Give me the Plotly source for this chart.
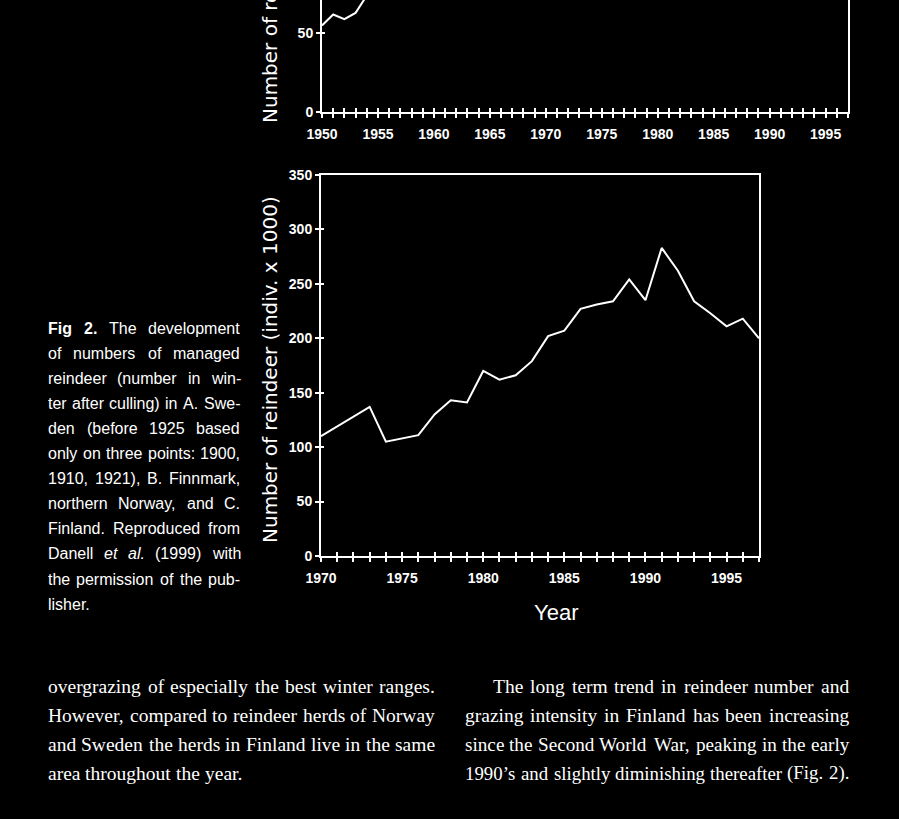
import plotly.graph_objects as go

W, H = 899, 819

# ---------------- data ----------------
years_top = [1950, 1951, 1952, 1953, 1954, 1955]
reindeer_top = [55, 62, 59, 63, 74, 88]

years_fin = list(range(1970, 1998))
reindeer_fin = [110, 119, 128, 137, 105, 108, 111, 130, 143, 141,
                170, 162, 166, 179, 202, 207, 227, 231, 234, 254,
                235, 283, 262, 234, 223, 211, 218, 200]

yticks = [0, 50, 100, 150, 200, 250, 300, 350]
xticks_top = [1950, 1955, 1960, 1965, 1970, 1975, 1980, 1985, 1990, 1995]
xticks_fin = [1970, 1975, 1980, 1985, 1990, 1995]

y_title = "Number of reindeer (indiv. x 1000)"
x_title = "Year"

caption_lines = [
    "Fig 2. The development",
    "of numbers of managed",
    "reindeer (number in win-",
    "ter after culling) in A. Swe-",
    "den (before 1925 based",
    "only on three points: 1900,",
    "1910, 1921), B. Finnmark,",
    "northern Norway, and C.",
    "Finland. Reproduced from",
    "Danell et al. (1999) with",
    "the permission of the pub-",
    "lisher.",
]
body_left = [
    "overgrazing of especially the best winter ranges.",
    "However, compared to reindeer herds of Norway",
    "and Sweden the herds in Finland live in the same",
    "area throughout the year.",
]
body_right = [
    "The long term trend in reindeer number and",
    "grazing intensity in Finland has been increasing",
    "since the Second World War, peaking in the early",
    "1990\u2019s and slightly diminishing thereafter (Fig. 2).",
]

# ---------------- helpers ----------------
def px(x):
    return x / W

def py(y):
    return 1 - y / H

HELV = {' ': 278, '(': 333, ')': 333, ',': 278, '-': 333, '.': 278, ':': 278,
        'A': 667, 'B': 667, 'C': 722, 'D': 722, 'F': 611, 'N': 722, 'R': 722,
        'S': 667, 'T': 611,
        'a': 556, 'b': 556, 'c': 500, 'd': 556, 'e': 556, 'f': 278, 'g': 556,
        'h': 556, 'i': 222, 'j': 222, 'k': 500, 'l': 222, 'm': 833, 'n': 556,
        'o': 556, 'p': 556, 'q': 556, 'r': 333, 's': 500, 't': 278, 'u': 556,
        'v': 500, 'w': 722, 'x': 500, 'y': 500, 'z': 500}
for d in '0123456789':
    HELV[d] = 556
HELV_B = dict(HELV)
HELV_B.update({'i': 278, 'g': 611, 'F': 611})

TIMES = {' ': 250, '(': 333, ')': 333, ',': 250, '-': 333, '.': 250, '\u2019': 333,
         'F': 556, 'H': 722, 'N': 722, 'S': 556, 'T': 611, 'W': 944,
         'a': 444, 'b': 500, 'c': 444, 'd': 500, 'e': 444, 'f': 333, 'g': 500,
         'h': 500, 'i': 278, 'j': 278, 'k': 500, 'l': 278, 'm': 778, 'n': 500,
         'o': 500, 'p': 500, 'q': 500, 'r': 333, 's': 389, 't': 278, 'u': 500,
         'v': 500, 'w': 722, 'x': 500, 'y': 500, 'z': 444}
for d in '0123456789':
    TIMES[d] = 500


def wwidth(word, table, size):
    return sum(table.get(c, 500) for c in word) * size / 1000.0


annotations = []


def place_line(text, left, right, yc, table, size, family, justify, styles=None):
    words = text.split(' ')
    styles = styles or {}
    tables = [HELV_B if styles.get(w) == 'b' else table for w in words]
    # shrink a line slightly if it would not fit naturally
    natural = sum(wwidth(w, tb, size) for w, tb in zip(words, tables)) + \
        (len(words) - 1) * table[' '] * size / 1000.0
    if natural > right - left:
        size = size * (right - left) / natural * 0.995
    widths = [wwidth(w, tb, size) for w, tb in zip(words, tables)]
    space = table[' '] * size / 1000.0
    if justify and len(words) > 1:
        gap = (right - left - sum(widths)) / (len(words) - 1)
    else:
        gap = space
    x = left
    for w, wd in zip(words, widths):
        st = styles.get(w)
        t = w
        if st == 'b':
            t = '<b>' + w + '</b>'
        elif st == 'i':
            t = '<i>' + w + '</i>'
        annotations.append(dict(
            text=t, x=px(x), y=py(yc), xref='paper', yref='paper',
            xanchor='left', yanchor='middle', showarrow=False,
            borderpad=0, borderwidth=0,
            font=dict(family=family, size=size, color='white')))
        x += wd + gap


# caption
cap_font = 'Liberation Sans, Arial, sans-serif'
for i, line in enumerate(caption_lines):
    st = {}
    if i == 0:
        st = {'Fig': 'b', '2.': 'b'}
    if i == 9:
        st = {'et': 'i', 'al.': 'i'}
    place_line(line, 48, 240, 328 + 25.1 * i, HELV, 16, cap_font,
               justify=(i < len(caption_lines) - 1), styles=st)

body_font = 'Liberation Serif, Times New Roman, serif'
for i, line in enumerate(body_left):
    place_line(line, 48, 435, 686 + 29 * i, TIMES, 19.5, body_font,
               justify=(i < len(body_left) - 1))
for i, line in enumerate(body_right):
    left = 493 if i == 0 else 465
    place_line(line, left, 849, 686 + 29 * i, TIMES, 19.5, body_font, justify=True)

# axis titles (rotated)
title_font = dict(family='DejaVu Sans, Verdana, sans-serif', size=20, color='white')
annotations.append(dict(text=y_title, x=px(270), y=py(370), xref='paper', yref='paper',
                        xanchor='center', yanchor='middle', textangle=-90,
                        showarrow=False, font=title_font))
annotations.append(dict(text=y_title, x=px(270), y=py(125 - 175), xref='paper', yref='paper',
                        xanchor='center', yanchor='middle', textangle=-90,
                        showarrow=False, font=title_font))
annotations.append(dict(text=x_title, x=px(556), y=py(612), xref='paper', yref='paper',
                        xanchor='center', yanchor='middle', showarrow=False,
                        font=dict(family='Liberation Sans Narrow, Liberation Sans',
                                  size=22, color='white')))

# ---------------- figure ----------------
fig = go.Figure()
fig.add_trace(go.Scatter(x=years_top, y=reindeer_top, mode='lines',
                         line=dict(color='white', width=2), xaxis='x', yaxis='y',
                         showlegend=False, hoverinfo='skip', cliponaxis=True))
fig.add_trace(go.Scatter(x=years_fin, y=reindeer_fin, mode='lines',
                         line=dict(color='white', width=2), xaxis='x2', yaxis='y2',
                         showlegend=False, hoverinfo='skip'))
# dummy traces to activate overlay axes (inside ticks)
for xa, ya in [('x3', 'y'), ('x', 'y3'), ('x4', 'y2'), ('x2', 'y4')]:
    fig.add_trace(go.Scatter(x=[None], y=[None], xaxis=xa, yaxis=ya,
                             showlegend=False, hoverinfo='skip'))

tick_font = dict(family='Liberation Sans Narrow, Liberation Sans',
                 size=14, color='white', weight='bold')

top_x_dom = [px(322), px(848)]
top_y_dom = [py(112), 1.0]
bot_x_dom = [px(321), px(759)]
bot_y_dom = [py(556), py(175)]
top_y_range = [0, 71.2]

common_x = dict(showgrid=False, zeroline=False, color='white', linecolor='white',
                linewidth=2, tickcolor='white', tickwidth=1.5, ticklen=4,
                tickfont=tick_font, ticklabelstandoff=4, automargin=False)
common_y = dict(showgrid=False, zeroline=False, color='white', linecolor='white',
                linewidth=2, tickcolor='white', tickwidth=1.5, ticklen=4,
                tickfont=tick_font, automargin=False)
overlay_common = dict(showticklabels=False, showline=False, showgrid=False, zeroline=False,
                      tickcolor='white', tickwidth=1.5, automargin=False)

fig.update_layout(
    width=W, height=H, margin=dict(l=0, r=0, t=0, b=0, autoexpand=False),
    paper_bgcolor='black', plot_bgcolor='black', showlegend=False,
    xaxis=dict(domain=top_x_dom, range=[1950, 1997], anchor='y', tickvals=xticks_top,
               ticks='outside', showline=True, mirror=False,
               minor=dict(dtick=1, ticks='outside', ticklen=4, tickcolor='white', tickwidth=1.5),
               **common_x),
    yaxis=dict(domain=top_y_dom, range=top_y_range, anchor='x', tickvals=yticks,
               ticks='outside', showline=True, mirror=True, **common_y),
    xaxis3=dict(overlaying='x', anchor='y', range=[1950, 1997], tickvals=xticks_top,
                ticks='inside', ticklen=4,
                minor=dict(dtick=1, ticks='inside', ticklen=4, tickcolor='white', tickwidth=1.5),
                **overlay_common),
    yaxis3=dict(overlaying='y', anchor='x', range=top_y_range, tickvals=yticks,
                ticks='inside', ticklen=3, **overlay_common),
    xaxis2=dict(domain=bot_x_dom, range=[1970, 1997], anchor='y2', tickvals=xticks_fin,
                ticks='outside', showline=True, mirror=True,
                minor=dict(dtick=1, ticks='outside', ticklen=4, tickcolor='white', tickwidth=1.5),
                **common_x),
    yaxis2=dict(domain=bot_y_dom, range=[0, 350], anchor='x2', tickvals=yticks,
                ticks='outside', showline=True, mirror=True, **common_y),
    xaxis4=dict(overlaying='x2', anchor='y2', range=[1970, 1997], tickvals=xticks_fin,
                ticks='inside', ticklen=4,
                minor=dict(dtick=1, ticks='inside', ticklen=4, tickcolor='white', tickwidth=1.5),
                **overlay_common),
    yaxis4=dict(overlaying='y2', anchor='x2', range=[0, 350], tickvals=yticks,
                ticks='inside', ticklen=3, **overlay_common),
    annotations=annotations,
)

fig.write_html('out.html')
